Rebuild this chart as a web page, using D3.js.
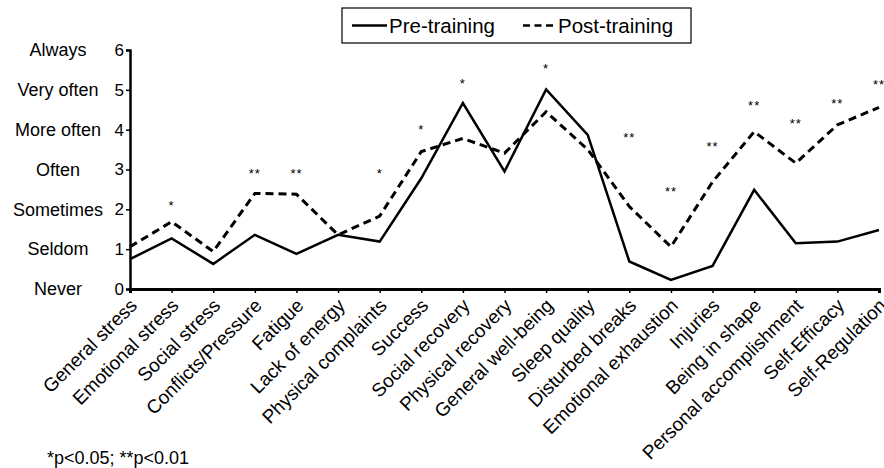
<!DOCTYPE html>
<html>
<head>
<meta charset="utf-8">
<script src="https://cdn.jsdelivr.net/npm/d3@7"></script>
<style>
  body { margin: 0; background: #fff; }
  svg text { font-family: "Liberation Sans", Arial, sans-serif; fill: #000; }
</style>
</head>
<body>
<div id="chart"></div>
<script>
const categories = ['General stress', 'Emotional stress', 'Social stress', 'Conflicts/Pressure', 'Fatigue',
    'Lack of energy', 'Physical complaints', 'Success', 'Social recovery', 'Physical recovery',
    'General well-being', 'Sleep quality', 'Disturbed breaks', 'Emotional exhaustion', 'Injuries',
    'Being in shape', 'Personal accomplishment', 'Self-Efficacy', 'Self-Regulation'];
const preTraining = [0.75, 1.27, 0.63, 1.36, 0.88, 1.36, 1.19, 2.78, 4.67, 2.95,
    5.01, 3.87, 0.69, 0.23, 0.58, 2.49, 1.15, 1.19, 1.48];
const postTraining = [1.06, 1.69, 0.94, 2.40, 2.38, 1.36, 1.83, 3.45, 3.78, 3.41,
    4.45, 3.50, 2.07, 1.06, 2.69, 3.95, 3.16, 4.12, 4.56];
// significance marks and the level they sit at
const sigMarks = ['', '*', '', '**', '**', '', '*', '*', '*', '',
    '*', '', '**', '**', '**', '**', '**', '**', '**'];
const sigLevel = [0, 2.19, 0, 2.99, 2.99, 0, 2.99, 4.09, 5.25, 0,
    5.62, 0, 3.89, 2.54, 3.67, 4.68, 4.24, 4.75, 5.22];
const yTicks = [0, 1, 2, 3, 4, 5, 6];
const yLabels = ['Never', 'Seldom', 'Sometimes', 'Often', 'More often', 'Very often', 'Always'];
const seriesNames = ['Pre-training', 'Post-training'];
const footnote = '*p<0.05; **p<0.01';

const W = 884, H = 468;
const margin = { top: 50, right: 5, bottom: 179, left: 130 };
const width = W - margin.left - margin.right;
const height = H - margin.top - margin.bottom;

const svg = d3.select('#chart').append('svg')
    .attr('width', W).attr('height', H);
const g = svg.append('g').attr('transform', `translate(${margin.left},${margin.top})`);

const x = d3.scalePoint().domain(categories).range([0, 749]);
const y = d3.scaleLinear().domain([0, 6]).range([height, 0]);

// y axis
const yAxis = g.append('g')
    .call(d3.axisLeft(y).tickValues(yTicks).tickFormat(d3.format('d')).tickSize(4).tickPadding(2));
yAxis.select('.domain').attr('stroke-width', 2.5);
yAxis.selectAll('.tick line').attr('stroke-width', 1.5);
yAxis.selectAll('.tick text').style('font-size', '17px');

g.selectAll('.ylab')
    .data(yTicks)
    .enter().append('text')
    .attr('class', 'ylab')
    .attr('x', -72)
    .attr('y', d => y(d))
    .attr('dy', '0.35em')
    .attr('text-anchor', 'middle')
    .style('font-size', '18px')
    .text((d, i) => yLabels[i]);

// x axis
const xAxis = g.append('g')
    .attr('transform', `translate(0,${height})`)
    .call(d3.axisBottom(x).tickSize(4).tickSizeOuter(4).tickPadding(2));
xAxis.select('.domain').attr('stroke-width', 3);
xAxis.selectAll('.tick line').attr('stroke-width', 1.5);
xAxis.selectAll('.tick text')
    .style('font-size', '19px')
    .attr('text-anchor', 'end')
    .attr('x', 0)
    .attr('y', 0)
    .attr('dy', '0.35em')
    .attr('transform', 'translate(3,13) rotate(-45)');

// lines
const line = d3.line()
    .x((d, i) => x(categories[i]))
    .y(d => y(d));

g.append('path')
    .datum(postTraining)
    .attr('fill', 'none')
    .attr('stroke', '#000')
    .attr('stroke-width', 3)
    .attr('stroke-dasharray', '8,5')
    .attr('d', line);

g.append('path')
    .datum(preTraining)
    .attr('fill', 'none')
    .attr('stroke', '#000')
    .attr('stroke-width', 2.5)
    .attr('d', line);

// significance stars
g.selectAll('.sig')
    .data(categories.filter((c, i) => sigMarks[i]))
    .enter().append('text')
    .attr('class', 'sig')
    .attr('x', c => x(c))
    .attr('y', c => y(sigLevel[categories.indexOf(c)]))
    .attr('dy', '0.6em')
    .attr('text-anchor', 'middle')
    .style('font-size', '13px')
    .style('letter-spacing', '1px')
    .text(c => sigMarks[categories.indexOf(c)]);

// legend
const legend = svg.append('g').attr('transform', 'translate(342,8)');
legend.append('rect')
    .attr('width', 349).attr('height', 35)
    .attr('fill', '#fff').attr('stroke', '#000').attr('stroke-width', 1.2);
legend.append('line')
    .attr('x1', 10).attr('x2', 45).attr('y1', 17.5).attr('y2', 17.5)
    .attr('stroke', '#000').attr('stroke-width', 2.5);
legend.append('text')
    .attr('x', 47).attr('y', 17.5).attr('dy', '0.35em')
    .style('font-size', '20.5px').text(seriesNames[0]);
legend.append('line')
    .attr('x1', 181).attr('x2', 212).attr('y1', 17.5).attr('y2', 17.5)
    .attr('stroke', '#000').attr('stroke-width', 2.5)
    .attr('stroke-dasharray', '7,4.5');
legend.append('text')
    .attr('x', 216).attr('y', 17.5).attr('dy', '0.35em')
    .style('font-size', '20.5px').text(seriesNames[1]);

// footnote
svg.append('text')
    .attr('x', 47).attr('y', 464)
    .style('font-size', '18px')
    .text(footnote);
</script>
</body>
</html>
